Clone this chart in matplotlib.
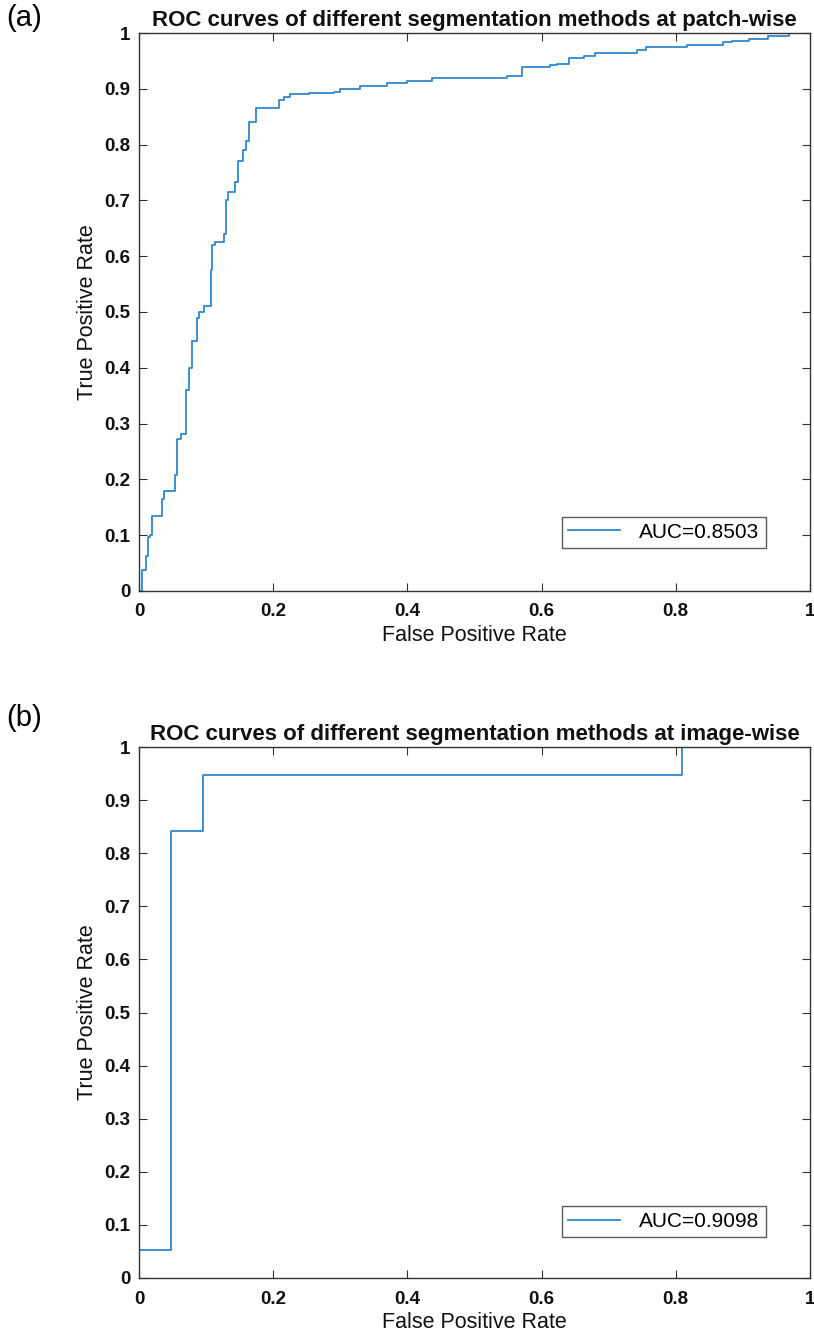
import numpy as np
import matplotlib.pyplot as plt

plt.rcParams.update({
    "font.family": "Liberation Sans",
    "font.size": 12,
    "axes.linewidth": 1.0,
})

LINE_COLOR = "#2F88CF"
AXIS_COLOR = "#333333"

# ---------------- data: panel (a), patch-wise ROC (step vertices) ----------------
fpr_a = [0.000, 0.004, 0.010, 0.013, 0.016, 0.020, 0.035, 0.037, 0.042, 0.054,
         0.057, 0.062, 0.070, 0.074, 0.079, 0.087, 0.089, 0.097, 0.108, 0.109,
         0.113, 0.127, 0.129, 0.133, 0.143, 0.147, 0.155, 0.159, 0.164, 0.174,
         0.209, 0.216, 0.225, 0.253, 0.290, 0.300, 0.330, 0.370, 0.400, 0.437,
         0.549, 0.571, 0.613, 0.623, 0.641, 0.663, 0.680, 0.742, 0.755, 0.817,
         0.871, 0.884, 0.909, 0.938, 0.968, 0.973, 1.000]
tpr_a = [0.000, 0.037, 0.062, 0.096, 0.100, 0.134, 0.165, 0.179, 0.180, 0.207,
         0.272, 0.282, 0.360, 0.400, 0.448, 0.490, 0.500, 0.510, 0.575, 0.620,
         0.625, 0.640, 0.700, 0.715, 0.733, 0.771, 0.790, 0.806, 0.840, 0.866,
         0.880, 0.885, 0.890, 0.892, 0.895, 0.900, 0.905, 0.910, 0.914, 0.920,
         0.923, 0.939, 0.942, 0.945, 0.955, 0.959, 0.965, 0.970, 0.975, 0.978,
         0.983, 0.986, 0.990, 0.994, 1.000, 1.000, 1.000]
auc_a = "AUC=0.8503"

# ---------------- data: panel (b), image-wise ROC ----------------
fpr_b = [0.000, 0.000, 0.0476, 0.0952, 0.8095, 1.000]
tpr_b = [0.000, 0.0526, 0.8421, 0.9474, 1.000, 1.000]
auc_b = "AUC=0.9098"

ticks = np.arange(0, 1.01, 0.1)
tick_labels = ["0"] + ["%.1f" % v for v in ticks[1:-1]] + ["1"]
xticks = np.arange(0, 1.01, 0.2)
xtick_labels = ["0", "0.2", "0.4", "0.6", "0.8", "1"]

fig = plt.figure(figsize=(8.14, 13.35), dpi=100)
fig.patch.set_facecolor("white")

W = 814.0
H = 1335.0


def make_axes(left, top, right, bottom):
    return fig.add_axes([left / W, 1 - bottom / H, (right - left) / W, (bottom - top) / H])


def style_axes(ax, title, fpr, tpr, auc, panel, panel_y):
    ax.plot(fpr, tpr, drawstyle="steps-post", color=LINE_COLOR, lw=1.3, label=auc)
    ax.set_xlim(0, 1)
    ax.set_ylim(0, 1)
    ax.set_xticks(xticks)
    ax.set_xticklabels(xtick_labels, fontweight="bold", fontsize=13.5)
    ax.set_yticks(ticks)
    ax.set_yticklabels(tick_labels, fontweight="bold", fontsize=13.5)
    ax.tick_params(direction="in", top=True, right=True, length=6,
                   width=0.8, color=AXIS_COLOR, labelcolor="#111111")
    ax.tick_params(axis="x", pad=9)
    ax.tick_params(axis="y", pad=6)
    for s in ax.spines.values():
        s.set_color(AXIS_COLOR)
    ax.set_xlabel("False Positive Rate", fontsize=15.5, color="#111111", labelpad=3)
    ax.set_ylabel("True Positive Rate", fontsize=15.5, color="#111111", labelpad=5)
    ax.set_title(title, fontsize=16, fontweight="bold", color="#111111", pad=5)
    leg = ax.legend(loc="lower right", bbox_to_anchor=(0.934, 0.077),
                    borderaxespad=0, fontsize=15, frameon=True, fancybox=False,
                    handlelength=2.5, borderpad=0.3, handletextpad=0.9)
    leg.get_frame().set_edgecolor(AXIS_COLOR)
    leg.get_frame().set_linewidth(1.0)
    fig.text(6 / W, 1 - panel_y / H, panel, fontsize=21, ha="left", va="center")


ax_a = make_axes(139, 33, 810, 591)
style_axes(ax_a, "ROC curves of different segmentation methods at patch-wise",
           fpr_a, tpr_a, auc_a, "(a)", 18)

ax_b = make_axes(139, 747, 810, 1278)
style_axes(ax_b, "ROC curves of different segmentation methods at image-wise",
           fpr_b, tpr_b, auc_b, "(b)", 718)

fig.savefig("out.png", dpi=100, facecolor="white")
